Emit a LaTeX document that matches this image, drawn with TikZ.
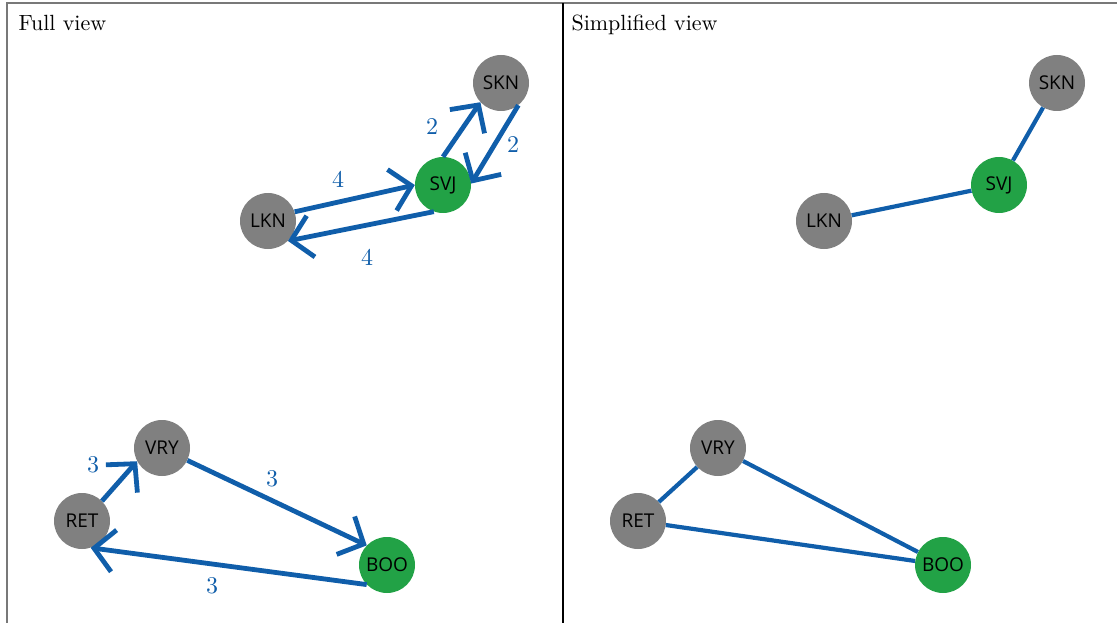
\documentclass[tikz,border=0pt]{standalone}
\usepackage{fontspec}
\setmainfont{lmroman10}[Extension=.otf, UprightFont=*-regular]
\newfontfamily\stationfont{Open Sans}
\usetikzlibrary{arrows.meta}

\definecolor{edgeblue}{RGB}{16,94,170}
\definecolor{hubgreen}{RGB}{34,162,70}
\definecolor{stationgray}{RGB}{128,128,128}
\definecolor{framegray}{RGB}{120,120,120}

\tikzset{
  station/.style={circle, fill=stationgray, minimum size=56pt, inner sep=0pt,
    font=\stationfont\fontsize{19}{19}\selectfont},
  hub/.style={station, fill=hubgreen},
  flow/.style={edgeblue, line width=4.8pt, -{Straight Barb[length=20pt,width=42pt]}},
  plainlink/.style={edgeblue, line width=4.2pt},
  wt/.style={text=edgeblue, font=\fontsize{24}{24}\selectfont},
  paneltitle/.style={anchor=base west, font=\fontsize{22}{24}\selectfont},
}

\begin{document}
\begin{tikzpicture}[x=1pt, y=-1pt]
    \useasboundingbox (0,0) rectangle (1117,623);

    % Frame
    \draw[framegray, line width=1.5pt] (7,623) -- (7,3) -- (1117,3);
    \draw[black, line width=1.5pt] (563,3) -- (563,623);

    % --- LEFT: Full view ---
    \node[paneltitle] (tFull) at (15,31) {Full view};

    \node[station] (SKN) at (501,83) {SKN};
    \node[hub]     (SVJ) at (443,185) {SVJ};
    \node[station] (LKN) at (268,221) {LKN};
    \node[station] (VRY) at (162,448) {VRY};
    \node[station] (RET) at (82,521) {RET};
    \node[hub]     (BOO) at (387,565) {BOO};

    % Arrows (one per direction)
    \draw[flow] (LKN.19) -- (SVJ.180);
    \draw[flow] (SVJ.251) -- (LKN.315);
    \draw[flow] (SVJ.90) -- (SKN.223);
    \draw[flow] (SKN.308) -- (SVJ.3);
    \draw[flow] (RET.45) -- (VRY.208);
    \draw[flow] (VRY.334) -- (BOO.136);
    \draw[flow] (BOO.224) -- (RET.288);

    % Weights
    \node[wt] (wLS) at (338,179) {4};
    \node[wt] (wSL) at (367,257) {4};
    \node[wt] (wSK) at (432,127) {2};
    \node[wt] (wKS) at (513,145) {2};
    \node[wt] (wRV) at (93,465) {3};
    \node[wt] (wVB) at (272,479) {3};
    \node[wt] (wBR) at (212,586) {3};

    % --- RIGHT: Simplified view ---
    \begin{scope}[xshift=556pt]
        \node[paneltitle] (tSimple) at (12,31) {Simplified view};

        \node[station] (SKN2) at (501,83) {SKN};
        \node[hub]     (SVJ2) at (443,185) {SVJ};
        \node[station] (LKN2) at (268,221) {LKN};
        \node[station] (VRY2) at (162,448) {VRY};
        \node[station] (RET2) at (82,521) {RET};
        \node[hub]     (BOO2) at (387,565) {BOO};

        % Undirected links
        \draw[plainlink] (SKN2) -- (SVJ2);
        \draw[plainlink] (SVJ2) -- (LKN2);
        \draw[plainlink] (RET2) -- (VRY2);
        \draw[plainlink] (VRY2) -- (BOO2);
        \draw[plainlink] (RET2) -- (BOO2);
    \end{scope}
\end{tikzpicture}
\end{document}
